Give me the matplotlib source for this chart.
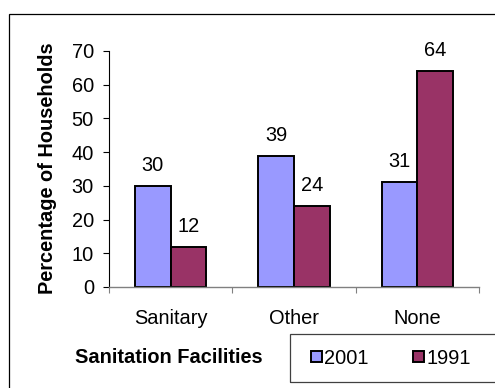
import numpy as np
import matplotlib
matplotlib.use("Agg")
import matplotlib.pyplot as plt
from matplotlib.patches import Rectangle

categories = ["Sanitary", "Other", "None"]
values_2001 = [30, 39, 31]
values_1991 = [12, 24, 64]
series_labels = ["2001", "1991"]
y_ticks = [0, 10, 20, 30, 40, 50, 60, 70]

W, H, DPI = 495, 388, 100
FS = 14.4  # 20 px text

plt.rcParams["font.family"] = ["Liberation Sans", "DejaVu Sans"]
plt.rcParams["font.size"] = FS


def px(x, y):
    # pixel coords (origin top-left) -> figure fraction
    return x / W, 1 - y / H


fig = plt.figure(figsize=(W / DPI, H / DPI), dpi=DPI)
left, top = px(109, 51)
right, bottom = px(479, 287)
ax = fig.add_axes([left, bottom, right - left, top - bottom])

x = np.arange(len(categories))
width = 0.29
bars_a = ax.bar(x - width / 2, values_2001, width, color="#9999FF",
                edgecolor="black", linewidth=1.4, label=series_labels[0])
bars_b = ax.bar(x + width / 2, values_1991, width, color="#993366",
                edgecolor="black", linewidth=1.4, label=series_labels[1])

for bars, vals in ((bars_a, values_2001), (bars_b, values_1991)):
    for b, v in zip(bars, vals):
        ax.annotate(str(v), (b.get_x() + b.get_width() / 2, v),
                    xytext=(0, 10.8), textcoords="offset points",
                    ha="center", va="baseline", fontsize=FS)

ax.set_xlim(-0.5, len(categories) - 0.5)
ax.set_ylim(0, 70)
ax.set_yticks(y_ticks)
ax.tick_params(axis="y", length=4.3, width=0.8, pad=6.5, labelsize=FS)

# category boundaries get the tick marks, centers get the labels
ax.set_xticks(np.arange(len(categories) + 1) - 0.5)
ax.set_xticklabels([])
ax.set_xticks(x, minor=True)
ax.set_xticklabels(categories, minor=True)
ax.tick_params(axis="x", which="major", length=4.3, width=0.8, color="#808080")
ax.tick_params(axis="x", which="minor", length=0, pad=16, labelsize=FS)

for s in ("top", "right"):
    ax.spines[s].set_visible(False)
ax.spines["left"].set_color("black")
ax.spines["left"].set_linewidth(0.8)
ax.spines["bottom"].set_color("#808080")
ax.spines["bottom"].set_linewidth(1.0)

fig.text(*px(169, 363), "Sanitation Facilities", ha="center", va="baseline",
         fontsize=FS, fontweight="bold")
fig.text(*px(48, 168), "Percentage of Households", ha="center", va="center",
         rotation=90, fontsize=FS, fontweight="bold")

# outer chart frame, running off the right and bottom edges
fx, fy = px(9, 14)
fig.add_artist(Rectangle((fx, -0.2), 1.3 - fx, fy + 0.2, transform=fig.transFigure,
                         fill=False, edgecolor="black", linewidth=0.9,
                         clip_on=False))

# legend box
lx, ly_top = px(290, 334)
_, ly_bot = px(290, 382)
fig.add_artist(Rectangle((lx, ly_bot), 1.3 - lx, ly_top - ly_bot,
                         transform=fig.transFigure, fill=False,
                         edgecolor="#404040", linewidth=0.9, clip_on=False))
fig.legend(handles=[bars_a, bars_b], labels=series_labels, ncol=2,
           loc="center left", bbox_to_anchor=px(311, 358), frameon=False,
           borderpad=0, borderaxespad=0, handlelength=0.55, handleheight=0.5,
           handletextpad=0.12, columnspacing=2.2, fontsize=FS)

fig.savefig("out.png", dpi=DPI)
